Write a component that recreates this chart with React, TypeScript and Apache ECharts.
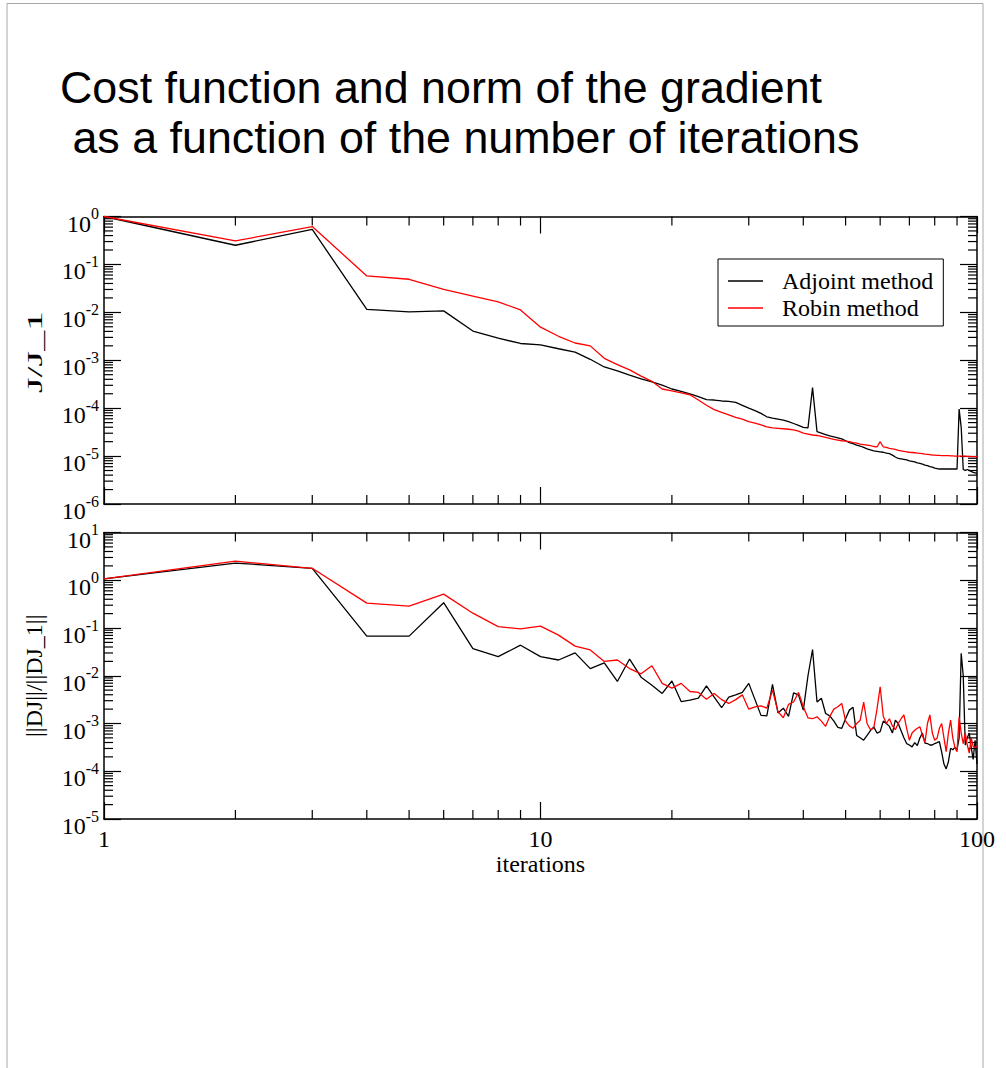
import React, { useEffect, useRef } from "react";
import * as echarts from "echarts";

// iteration numbers (x values)
const iterations: number[] = Array.from({ length: 100 }, (_, k) => k + 1);

// log10 of J/J_1 (iterations 1..100)
const adjointCostLog10 = [
  0, -0.60, -0.27, -1.94, -1.99, -1.97, -2.39, -2.54, -2.65, -2.68,
  -2.76, -2.83, -2.98, -3.14, -3.22, -3.31, -3.39, -3.45, -3.52, -3.60,
  -3.65, -3.70, -3.76, -3.82, -3.83, -3.85, -3.86, -3.88, -3.94, -4.00,
  -4.05, -4.11, -4.18, -4.21, -4.23, -4.25, -4.28, -4.32, -4.36, -4.40,
  -4.41, -3.57, -4.49, -4.52, -4.55, -4.58, -4.60, -4.62, -4.64, -4.68,
  -4.72, -4.74, -4.77, -4.79, -4.82, -4.85, -4.87, -4.89, -4.90, -4.91,
  -4.92, -4.94, -4.95, -4.98, -5.02, -5.05, -5.06, -5.07, -5.08, -5.10,
  -5.11, -5.12, -5.14, -5.15, -5.17, -5.19, -5.20, -5.22, -5.23, -5.25,
  -5.26, -5.27, -5.27, -5.27, -5.27, -5.27, -5.27, -5.27, -5.27, -5.27,
  -4.02, -4.40, -5.28, -5.30, -5.28, -5.30, -5.32, -5.34, -5.35, -5.36,
];
const robinCostLog10 = [
  0, -0.51, -0.21, -1.24, -1.31, -1.52, -1.66, -1.78, -1.95, -2.31,
  -2.50, -2.64, -2.70, -2.96, -3.09, -3.20, -3.33, -3.44, -3.60, -3.64,
  -3.68, -3.72, -3.83, -3.94, -4.03, -4.09, -4.14, -4.19, -4.23, -4.28,
  -4.31, -4.35, -4.39, -4.41, -4.42, -4.43, -4.44, -4.455, -4.48, -4.52,
  -4.54, -4.56, -4.57, -4.59, -4.61, -4.63, -4.65, -4.665, -4.68, -4.69,
  -4.70, -4.72, -4.73, -4.75, -4.76, -4.77, -4.78, -4.80, -4.81, -4.70,
  -4.81, -4.82, -4.84, -4.85, -4.86, -4.88, -4.89, -4.90, -4.91, -4.92,
  -4.925, -4.93, -4.94, -4.945, -4.95, -4.96, -4.965, -4.97, -4.98, -4.98,
  -4.985, -4.985, -4.99, -4.99, -4.99, -4.99, -4.995, -4.995, -5.0, -5.0,
  -5.0, -5.0, -5.0, -5.0, -5.005, -5.005, -5.01, -5.01, -5.01, -5.01,
];

// log10 of ||DJ||/||DJ_1|| (iterations 1..100)
const adjointGradLog10 = [
  0.03, 0.36, 0.25, -1.17, -1.17, -0.47, -1.43, -1.60, -1.36, -1.60,
  -1.67, -1.52, -1.85, -1.73, -2.12, -1.65, -2.03, -2.20, -2.37, -2.11,
  -2.54, -2.51, -2.47, -2.21, -2.45, -2.67, -2.45, -2.40, -2.35, -2.16,
  -2.50, -2.83, -2.84, -2.18, -2.78, -2.68, -2.85, -2.36, -2.40, -2.72,
  -2.00, -1.45, -2.55, -2.47, -2.79, -2.84, -2.95, -3.08, -3.10, -2.90,
  -2.72, -2.66, -3.25, -3.30, -3.35, -3.25, -3.15, -3.07, -3.20, -3.17,
  -2.95, -3.00, -3.06, -3.20, -2.93, -3.00, -3.15, -3.30, -3.42, -3.45,
  -3.49, -3.40, -3.46, -3.30, -3.20, -3.41, -3.42, -3.45, -3.45, -3.42,
  -3.40, -3.38, -3.60, -3.85, -3.95, -3.80, -3.52, -3.55, -3.50, -3.55,
  -3.30, -1.53, -2.00, -3.45, -3.30, -3.20, -3.50, -3.75, -3.35, -3.85,
];
const robinGradLog10 = [
  0.03, 0.40, 0.25, -0.48, -0.54, -0.29, -0.69, -0.97, -1.02, -0.96,
  -1.15, -1.38, -1.46, -1.70, -1.67, -1.85, -1.96, -1.79, -2.16, -2.26,
  -2.16, -2.33, -2.35, -2.49, -2.37, -2.50, -2.58, -2.50, -2.40, -2.70,
  -2.65, -2.63, -2.68, -2.30, -2.75, -2.88, -2.60, -2.55, -2.35, -2.65,
  -2.88, -2.90, -2.86, -2.95, -3.06, -2.85, -2.70, -2.65, -2.58, -2.95,
  -3.05, -3.10, -3.00, -2.93, -2.55, -3.00, -3.13, -3.10, -2.70, -2.23,
  -2.85, -3.00, -2.90, -3.05, -3.13, -3.00, -2.90, -2.82, -3.10, -3.35,
  -3.20, -3.14, -3.10, -3.07, -3.25, -3.40, -3.00, -2.82, -3.20, -3.35,
  -3.31, -3.10, -3.00, -3.30, -3.59, -3.20, -2.93, -3.30, -3.50, -3.59,
  -2.86, -3.20, -3.42, -3.20, -3.45, -3.62, -3.30, -3.48, -3.50, -3.48,
];

const seriesNames = ["Adjoint method", "Robin method"];
const titleLines = [
  "Cost function and norm of the gradient",
  " as a function of the number of iterations",
];
const topAxisName = "J/J_1";
const bottomAxisName = "||DJ||/||DJ_1||";
const xMinorTicks = [2, 3, 4, 5, 6, 7, 8, 9, 20, 30, 40, 50, 60, 70, 80, 90];
const minorMultipliers = [2, 3, 4, 5, 6, 7, 8, 9];
const topDecades = [-6, -5, -4, -3, -2, -1];
const bottomDecades = [-5, -4, -3, -2, -1, 0];

const SERIF = "'Liberation Serif', 'Times New Roman', serif";
const SANS = "'Liberation Sans', Arial, sans-serif";

const toPairs = (logs: number[]) =>
  iterations.map((it, k) => [it, Math.pow(10, logs[k])]);

const minorTickData = (decades: number[], yMin: number) => {
  const out: number[][] = [];
  xMinorTicks.forEach((v) => out.push([v, yMin, 0]));
  decades.forEach((d) =>
    minorMultipliers.forEach((m) => out.push([1, m * Math.pow(10, d), 1]))
  );
  return out;
};

export default function App() {
  const ref = useRef<HTMLDivElement>(null);
  useEffect(() => {
    if (!ref.current) return;
    const chart = echarts.init(ref.current, undefined, { renderer: "svg" });

    const tickStyle = { stroke: "#000", lineWidth: 1.2 };
    const makeRender = (yMin: number, yMax: number) => (params: any, api: any) => {
      const kind = api.value(2);
      const L = 9;
      if (kind === 0) {
        const v = api.value(0);
        const pb = api.coord([v, yMin]);
        const pt = api.coord([v, yMax]);
        return {
          type: "group",
          children: [
            { type: "line", shape: { x1: pb[0], y1: pb[1], x2: pb[0], y2: pb[1] - L }, style: tickStyle },
            { type: "line", shape: { x1: pt[0], y1: pt[1], x2: pt[0], y2: pt[1] + L }, style: tickStyle },
          ],
        };
      }
      const w = api.value(1);
      const pl = api.coord([1, w]);
      const pr = api.coord([100, w]);
      return {
        type: "group",
        children: [
          { type: "line", shape: { x1: pl[0], y1: pl[1], x2: pl[0] + L, y2: pl[1] }, style: tickStyle },
          { type: "line", shape: { x1: pr[0], y1: pr[1], x2: pr[0] - L, y2: pr[1] }, style: tickStyle },
        ],
      };
    };

    const axisLine = { show: true, lineStyle: { color: "#000", width: 1.5 } };
    const majorTick = { show: true, inside: true, length: 17, lineStyle: { color: "#000", width: 1.2 } };
    const powLabel = {
      show: true,
      margin: 5,
      padding: [8, 0, 0, 0],
      formatter: (v: number) => `{b|10}{s|${Math.round(Math.log10(v))}}`,
      rich: {
        b: { fontFamily: SERIF, fontSize: 24, lineHeight: 30, verticalAlign: "bottom", color: "#000" },
        s: { fontFamily: SERIF, fontSize: 16, lineHeight: 30, verticalAlign: "top", color: "#000" },
      },
    };
    const xBase = (gridIndex: number, position: string, labels: boolean, name?: string) => ({
      type: "log",
      logBase: 10,
      min: 1,
      max: 100,
      gridIndex,
      position,
      axisLine,
      axisTick: majorTick,
      splitLine: { show: false },
      axisLabel: labels
        ? { show: true, margin: 8, color: "#000", fontFamily: SERIF, fontSize: 24 }
        : { show: false },
      name: name || "",
      nameLocation: "middle",
      nameGap: 31,
      nameTextStyle: { fontFamily: SERIF, fontSize: 24, color: "#000" },
    });
    const yBase = (gridIndex: number, position: string, min: number, max: number, labels: boolean, name?: string) => ({
      type: "log",
      logBase: 10,
      min,
      max,
      gridIndex,
      position,
      axisLine,
      axisTick: majorTick,
      splitLine: { show: false },
      axisLabel: labels ? powLabel : { show: false },
      name: name || "",
      nameLocation: "middle",
      nameGap: 58,
      nameRotate: 90,
      nameTextStyle: { fontFamily: SERIF, fontSize: 24, color: "#000" },
    });

    const lineSeries = (name: string, color: string, logs: number[], ax: number) => ({
      type: "line",
      name,
      xAxisIndex: ax,
      yAxisIndex: ax,
      data: toPairs(logs),
      showSymbol: false,
      symbol: "none",
      lineStyle: { color, width: 1.3 },
      itemStyle: { color },
      emphasis: { disabled: true },
      z: 3,
    });

    chart.setOption({
      animation: false,
      backgroundColor: "#fff",
      grid: [
        { left: 104, top: 216.5, width: 873, height: 287.5, outerBoundsMode: "none" },
        { left: 104, top: 532.5, width: 873, height: 286.5, outerBoundsMode: "none" },
      ],
      xAxis: [
        xBase(0, "bottom", false),
        xBase(0, "top", false),
        xBase(1, "bottom", true, "iterations"),
        xBase(1, "top", false),
      ],
      yAxis: [
        yBase(0, "left", 1e-6, 1, true),
        yBase(0, "right", 1e-6, 1, false),
        yBase(1, "left", 1e-5, 10, true, bottomAxisName),
        yBase(1, "right", 1e-5, 10, false),
      ],
      legend: {
        show: true,
        data: seriesNames.map((n) => ({ name: n, icon: "rect" })),
        orient: "vertical",
        left: 718,
        top: 259,
        padding: [10, 10, 6, 10],
        itemGap: 3,
        itemWidth: 35,
        itemHeight: 1.4,
        borderColor: "#000",
        borderWidth: 1,
        backgroundColor: "#fff",
        selectedMode: false,
        textStyle: { fontFamily: SERIF, fontSize: 24, color: "#000", lineHeight: 24, padding: [0, 0, 0, 14] },
      },
      graphic: [
        { type: "line", shape: { x1: 7, y1: 3.5, x2: 983, y2: 3.5 }, style: { stroke: "#a8a8a8", lineWidth: 1 } },
        { type: "line", shape: { x1: 7, y1: 3.5, x2: 7, y2: 1068 }, style: { stroke: "#a8a8a8", lineWidth: 1 } },
        { type: "line", shape: { x1: 983, y1: 3.5, x2: 983, y2: 1068 }, style: { stroke: "#a8a8a8", lineWidth: 1 } },
        {
          type: "text",
          x: 60,
          y: 87,
          style: { text: titleLines[0], font: `44.8px ${SANS}`, fill: "#000", verticalAlign: "middle" },
        },
        {
          type: "text",
          x: 60,
          y: 137,
          style: { text: titleLines[1], font: `44.8px ${SANS}`, fill: "#000", verticalAlign: "middle" },
        },
        {
          type: "text",
          x: 35,
          y: 352,
          rotation: Math.PI / 2,
          scaleX: 1.9,
          style: {
            text: topAxisName,
            font: `21px ${SERIF}`,
            fill: "#000",
            align: "center",
            verticalAlign: "middle",
          },
        },
      ],
      series: [
        lineSeries(seriesNames[0], "#000000", adjointCostLog10, 0),
        lineSeries(seriesNames[1], "#ff0000", robinCostLog10, 0),
        lineSeries(seriesNames[0], "#000000", adjointGradLog10, 2),
        lineSeries(seriesNames[1], "#ff0000", robinGradLog10, 2),
        {
          type: "custom",
          xAxisIndex: 0,
          yAxisIndex: 0,
          silent: true,
          clip: false,
          encode: { x: 0, y: 1 },
          data: minorTickData(topDecades, 1e-6),
          renderItem: makeRender(1e-6, 1),
          z: 2,
        },
        {
          type: "custom",
          xAxisIndex: 2,
          yAxisIndex: 2,
          silent: true,
          clip: false,
          encode: { x: 0, y: 1 },
          data: minorTickData(bottomDecades, 1e-5),
          renderItem: makeRender(1e-5, 10),
          z: 2,
        },
      ],
    });
    return () => chart.dispose();
  }, []);

  return (
    <div
      ref={ref}
      style={{ position: "absolute", left: 0, top: 0, width: 1006, height: 1068, background: "#fff" }}
    />
  );
}
